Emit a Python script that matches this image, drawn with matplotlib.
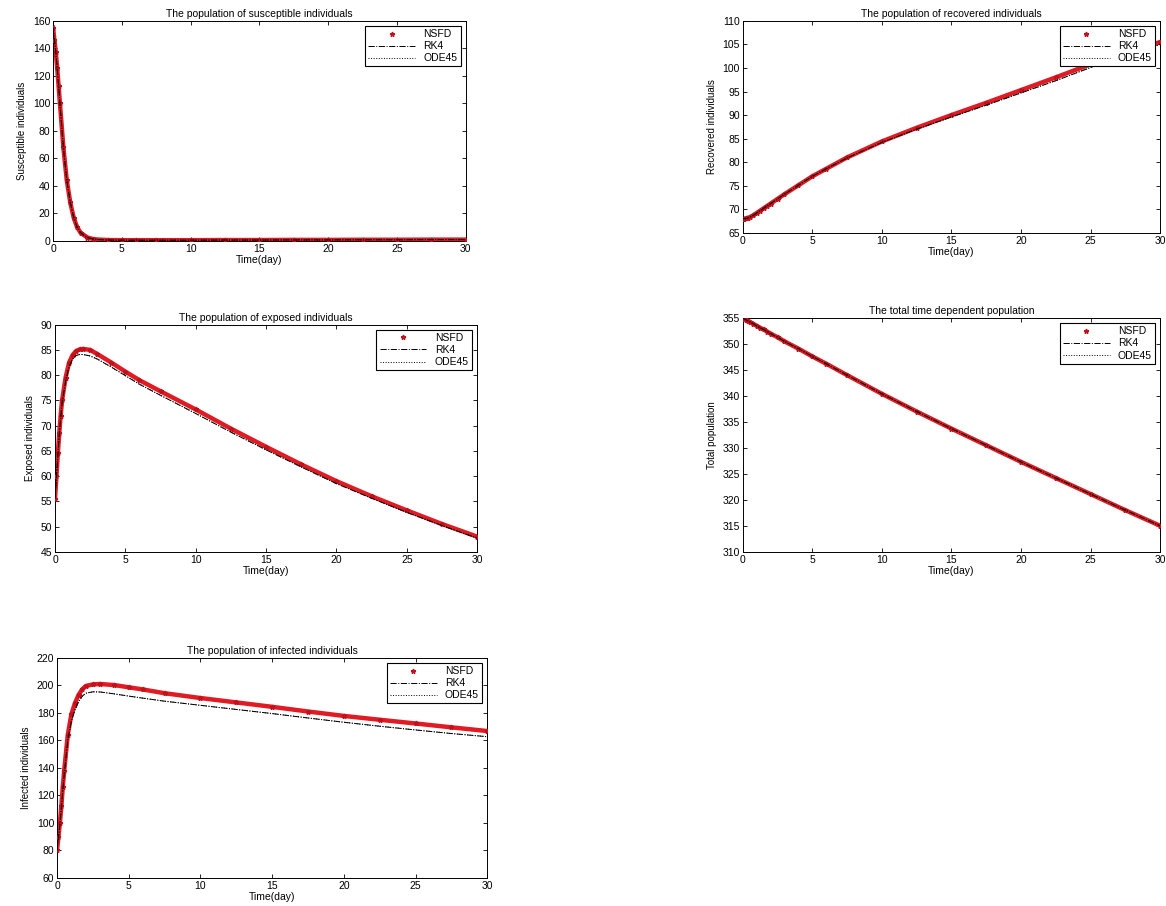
# SEIR 模型数值解：NSFD / RK4 / ODE45 对比
import matplotlib
matplotlib.use("Agg")
import matplotlib.pyplot as plt

plt.rcParams["font.family"] = ["Liberation Sans", "DejaVu Sans"]
plt.rcParams["font.size"] = 7.5

# 时间点(天)
t = [0, 0.1, 0.2, 0.3, 0.4, 0.5, 0.75, 1, 1.25, 1.5, 1.75, 2, 2.5, 3, 4, 5, 6,
     7.5, 10, 12.5, 15, 17.5, 20, 22.5, 25, 27.5, 30]

# 易感者 S
s_nsfd = [155, 146, 137, 126, 113, 100, 68, 44, 28, 17, 10, 6, 2.5, 1.2, 0.7, 0.6,
          0.6, 0.6, 0.6, 0.7, 0.7, 0.8, 0.8, 0.9, 0.9, 1.0, 1.0]
s_rk4 = [155, 146, 137, 126, 113, 100, 68, 44, 28, 17, 10, 6, 2.5, 1.2, 0.7, 0.6,
         0.6, 0.6, 0.6, 0.7, 0.7, 0.8, 0.8, 0.9, 0.9, 1.0, 1.0]
s_ode45 = s_rk4

# 暴露者 E
e_nsfd = [55.5, 60, 64.5, 68.5, 72, 75, 79.5, 82.5, 84, 84.8, 85.1, 85.2, 85, 84.2,
          82.5, 80.7, 79, 76.8, 73.2, 69.4, 65.8, 62.3, 59, 56, 53.2, 50.5, 48]
e_rk4 = [55.5, 59.8, 64, 68, 71.5, 74.4, 78.8, 81.7, 83.2, 83.9, 84.1, 84.1, 83.8,
         83.2, 81.6, 79.9, 78.2, 76, 72.4, 68.7, 65.2, 61.8, 58.5, 55.6, 52.8, 50.2, 47.7]
e_ode45 = e_rk4

# 感染者 I
i_nsfd = [80, 90, 100, 112, 126, 138, 164, 179, 187, 193, 197, 199.5, 200.7, 201,
          200.2, 198.6, 197, 194.3, 190.8, 187.6, 184.4, 181, 177.8, 175, 172.3, 169.5, 166.8]
i_rk4 = [80, 89, 99, 110, 123, 135, 160, 174, 182, 188, 192, 194.3, 195.3, 195.2,
         193.8, 192.2, 190.7, 188.5, 185.5, 182.5, 179.5, 176.3, 173.2, 170.3, 167.6, 165, 162.7]
i_ode45 = i_rk4

# 康复者 R
r_nsfd = [68, 68, 68.05, 68.1, 68.2, 68.3, 68.7, 69.2, 69.7, 70.2, 70.7, 71.2, 72.2,
          73.2, 75.1, 77, 78.6, 81, 84.4, 87.3, 90, 92.6, 95.3, 98, 100.8, 103.2, 105.5]
r_rk4 = [68, 68, 68.05, 68.1, 68.2, 68.3, 68.7, 69.2, 69.7, 70.2, 70.7, 71.2, 72.2,
         73.2, 75.1, 77, 78.6, 80.9, 84.2, 87, 89.6, 92.1, 94.7, 97.3, 100.1, 102.6, 105]
r_ode45 = r_rk4

# 总人口 N
n_nsfd = [355, 354.85, 354.7, 354.55, 354.4, 354.25, 353.9, 353.5, 353.1, 352.8,
          352.4, 352, 351.3, 350.5, 349.1, 347.6, 346.2, 344, 340.4, 337, 333.7,
          330.5, 327.3, 324.2, 321.1, 318, 315]
n_rk4 = n_nsfd
n_ode45 = n_nsfd

fig = plt.figure(figsize=(11.66, 9.06), dpi=100)


def draw(rect, nsfd, rk4, ode45, ylim, ystep, title, ylabel):
    ax = fig.add_axes(rect)
    ax.plot(t, nsfd, color="#e01b24", lw=3.2, zorder=2)
    ax.plot(t, nsfd, "*", color="#e01b24", mec="#c0101c", ms=3.5, label="NSFD", zorder=3)
    ax.plot(t, rk4, "-.", color="k", lw=0.7, label="RK4", zorder=4)
    ax.plot(t, ode45, ":", color="k", lw=0.7, label="ODE45", zorder=4)
    ax.set_xlim(0, 30)
    ax.set_ylim(*ylim)
    ax.set_xticks(range(0, 31, 5))
    ax.set_yticks(range(ylim[0], ylim[1] + 1, ystep))
    ax.tick_params(direction="in", top=True, right=True, length=3, width=0.6, pad=2)
    for sp in ax.spines.values():
        sp.set_linewidth(0.7)
    ax.set_title(title, fontsize=7.5, pad=3)
    ax.set_xlabel("Time(day)", labelpad=1)
    ax.set_ylabel(ylabel, fontsize=7)
    leg = ax.legend(loc="upper right", fancybox=False, framealpha=1, edgecolor="k",
                    handlelength=4.5, fontsize=7.5, borderpad=0.3, labelspacing=0.2,
                    markerfirst=True)
    leg.get_frame().set_linewidth(0.8)
    return ax


draw([0.0455, 0.734, 0.354, 0.243], s_nsfd, s_rk4, s_ode45, (0, 160), 20,
     "The population of susceptible individuals", "Susceptible individuals")
draw([0.637, 0.743, 0.358, 0.234], r_nsfd, r_rk4, r_ode45, (65, 110), 5,
     "The population of recovered individuals", "Recovered individuals")
draw([0.0472, 0.391, 0.362, 0.2506], e_nsfd, e_rk4, e_ode45, (45, 90), 5,
     "The population of exposed individuals", "Exposed individuals")
draw([0.637, 0.391, 0.358, 0.258], n_nsfd, n_rk4, n_ode45, (310, 355), 5,
     "The total time dependent population", "Total population")
draw([0.0489, 0.0309, 0.369, 0.243], i_nsfd, i_rk4, i_ode45, (60, 220), 20,
     "The population of infected individuals", "Infected individuals")

fig.savefig("out.png", dpi=100)
